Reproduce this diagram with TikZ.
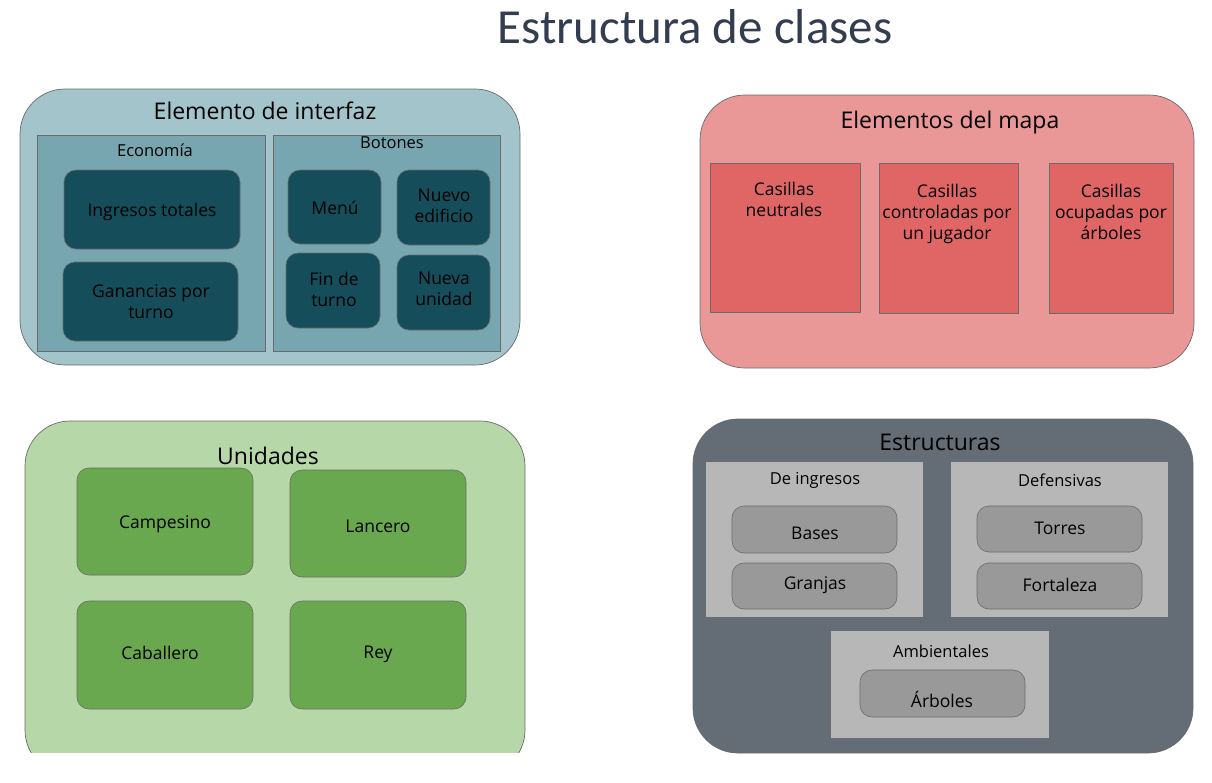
\documentclass[tikz,border=0pt]{standalone}
\usepackage{fontspec}
\setmainfont{Open Sans}
\newfontfamily\titlefont{Carlito}
\definecolor{bgA}{HTML}{A3C4CA}
\definecolor{midA}{HTML}{77A6B1}
\definecolor{darkA}{HTML}{154D5B}
\definecolor{bgB}{HTML}{EA9797}
\definecolor{midB}{HTML}{E06666}
\definecolor{bgC}{HTML}{B6D7A8}
\definecolor{midC}{HTML}{6AA84F}
\definecolor{bgD}{HTML}{646C76}
\definecolor{midD}{HTML}{B7B7B7}
\definecolor{darkD}{HTML}{999999}
\definecolor{edge}{HTML}{6B6B6B}
\definecolor{titlecol}{HTML}{333D4F}
\newcommand{\bx}[6]{\node[#6, anchor=north west, minimum width={(#4-#2)*1pt}, minimum height={(#5-#3)*1pt}] (#1) at (#2,#3) {};}
\begin{document}
\begin{tikzpicture}[x=1pt,y=-1pt,
  every node/.style={inner sep=0pt, outer sep=0pt},
  outerbox/.style={draw=edge, line width=0.7pt, rounded corners=45pt},
  midbox/.style={draw=edge, line width=0.6pt},
  leafbox/.style={draw=edge, line width=0.6pt, rounded corners=12pt},
  bigtitle/.style={font=\titlefont\fontsize{49}{54}\selectfont, text=titlecol},
  grptitle/.style={font=\fontsize{23}{27}\selectfont, text=black},
  subtitle/.style={font=\fontsize{16.5}{20}\selectfont, text=black},
  leaftext/.style={font=\fontsize{17.5}{21}\selectfont, text=black, align=center}]
\useasboundingbox (0,0) rectangle (1212,782);
\node[bigtitle] (title) at (695,27) {Estructura de clases};
% ---- Elemento de interfaz
\bx{ui}{20}{89}{520}{365}{outerbox, fill=bgA}
\node[grptitle] (uiT) at (265,111) {Elemento de interfaz};
\bx{eco}{37}{135}{265}{351}{midbox, fill=midA}
\node[subtitle] (ecoT) at (155,150) {Economía};
\bx{bot}{273}{135}{500}{351}{midbox, fill=midA}
\node[subtitle] (botT) at (392,143) {Botones};
\bx{ing}{64}{170}{240}{249}{leafbox, fill=darkA}
\node[leaftext] at (152,212) {Ingresos totales};
\bx{gan}{63}{262}{238}{341}{leafbox, fill=darkA}
\node[leaftext] at (151,302) {Ganancias por\\turno};
\bx{menu}{288}{170}{381}{244}{leafbox, fill=darkA}
\node[leaftext] at (335,208) {Menú};
\bx{ned}{397}{170}{490}{245}{leafbox, fill=darkA}
\node[leaftext] at (444,206) {Nuevo\\edificio};
\bx{fin}{286}{253}{380}{328}{leafbox, fill=darkA}
\node[leaftext] at (334,289) {Fin de\\turno};
\bx{nun}{397}{255}{490}{330}{leafbox, fill=darkA}
\node[leaftext] at (444,289) {Nueva\\unidad};
% ---- Elementos del mapa
\bx{map}{700}{95}{1194}{368}{outerbox, fill=bgB}
\node[grptitle] (mapT) at (950,123) {Elementos del mapa};
\bx{neu}{710}{163}{860}{312}{midbox, fill=midB}
\node[leaftext, anchor=north] at (784,182) {Casillas\\neutrales};
\bx{con}{879}{163}{1018}{313}{midbox, fill=midB}
\node[leaftext, anchor=north] at (947,184) {Casillas\\controladas por\\un jugador};
\bx{ocu}{1049}{163}{1173}{313}{midbox, fill=midB}
\node[leaftext, anchor=north] at (1111,184) {Casillas\\ocupadas por\\árboles};
% ---- Unidades
\begin{scope}
\clip (0,0) rectangle (1212,752.5);
\bx{uni}{25}{421}{525}{775}{outerbox, fill=bgC}
\end{scope}
\node[grptitle] (uniT) at (268,456) {Unidades};
\bx{cam}{77}{468}{253}{575}{leafbox, fill=midC}
\node[leaftext] at (165,524) {Campesino};
\bx{lan}{290}{470}{466}{577}{leafbox, fill=midC}
\node[leaftext] at (378,526) {Lancero};
\bx{cab}{77}{601}{253}{709}{leafbox, fill=midC}
\node[leaftext] at (160,653) {Caballero};
\bx{rey}{290}{601}{466}{709}{leafbox, fill=midC}
\node[leaftext] at (378,654) {Rey};
% ---- Estructuras
\bx{est}{693}{419}{1193}{753}{outerbox, fill=bgD}
\node[grptitle] (estT) at (940,442) {Estructuras};
\bx{dei}{706}{462}{923}{617}{fill=midD}
\node[subtitle] (deiT) at (815,480) {De ingresos};
\bx{bas}{732}{506}{897}{553}{leafbox, fill=darkD}
\node[leaftext] at (815,533) {Bases};
\bx{gra}{732}{563}{897}{609}{leafbox, fill=darkD}
\node[leaftext] at (815,585) {Granjas};
\bx{def}{951}{462}{1168}{617}{fill=midD}
\node[subtitle] (defT) at (1060,480) {Defensivas};
\bx{tor}{977}{506}{1142}{552}{leafbox, fill=darkD}
\node[leaftext] at (1060,528) {Torres};
\bx{fort}{977}{563}{1142}{609}{leafbox, fill=darkD}
\node[leaftext] at (1060,585) {Fortaleza};
\bx{amb}{831}{631}{1049}{738}{fill=midD}
\node[subtitle] (ambT) at (941,651) {Ambientales};
\bx{arb}{860}{670}{1025}{717}{leafbox, fill=darkD}
\node[leaftext] at (942,699) {Árboles};
\end{tikzpicture}
\end{document}
